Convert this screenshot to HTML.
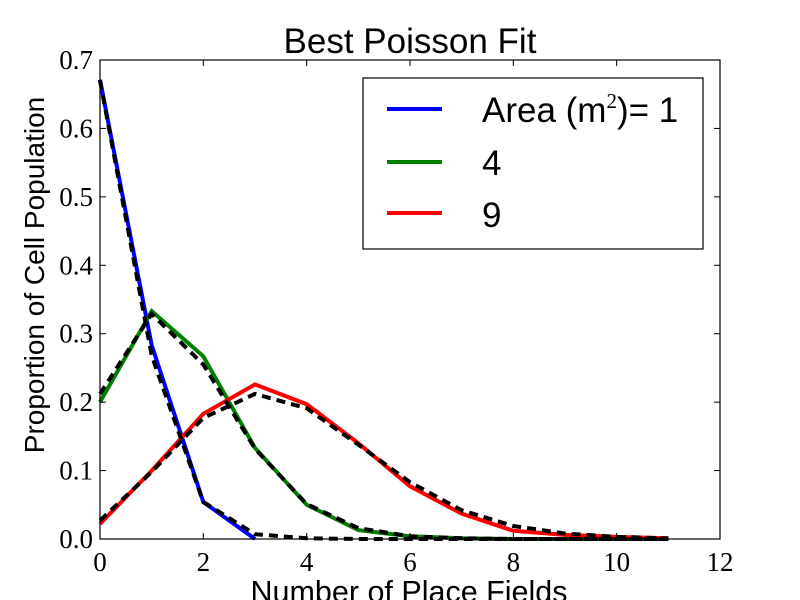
<!DOCTYPE html>
<html><head><meta charset="utf-8"><style>
html,body{margin:0;padding:0;background:#fff;}
svg{display:block;}
.serif{font-family:"Liberation Serif",serif;}
.sans{font-family:"Liberation Sans",sans-serif;}
</style></head><body>
<svg id="chart" width="800" height="600" viewBox="0 0 800 600" xmlns="http://www.w3.org/2000/svg">
<rect x="0" y="0" width="800" height="600" fill="#fff"/>
<g id="plot"></g>
<rect x="100" y="60" width="620" height="479" fill="none" stroke="#000" stroke-width="1.2"/>
<text x="410" y="53" text-anchor="middle" class="sans" font-size="35">Best Poisson Fit</text>
<text x="409" y="602" text-anchor="middle" class="sans" font-size="30.5">Number of Place Fields</text>
<text transform="translate(44,275) rotate(-90)" text-anchor="middle" class="sans" font-size="28">Proportion of Cell Population</text>
<g>
<rect x="363" y="78" width="340" height="171" fill="#fff" stroke="#000" stroke-width="1.2"/>
<line x1="387" y1="109" x2="442" y2="109" stroke="#0000ff" stroke-width="4"/>
<line x1="387" y1="162" x2="442" y2="162" stroke="#008000" stroke-width="4"/>
<line x1="387" y1="213" x2="442" y2="213" stroke="#ff0000" stroke-width="4"/>
<text x="482" y="122" class="sans" font-size="35">Area (m<tspan class="serif" font-size="21" dy="-14">2</tspan><tspan dy="14">)= 1</tspan></text>
<text x="482" y="175" class="sans" font-size="35">4</text>
<text x="482" y="227" class="sans" font-size="35">9</text>
</g>
</svg>
<script>
const xTicks = [0,2,4,6,8,10,12];
const yTicks = [0.0,0.1,0.2,0.3,0.4,0.5,0.6,0.7];
const xsBlue = [0,1,2,3];
const valsBlue = [0.671,0.283,0.054,0.0];
const xsGreen = [0,1,2,3,4,5,6,7,8,9,10,11];
const valsGreen = [0.200,0.333,0.267,0.133,0.050,0.013,0.004,0.001,0.0,0.0,0.0,0.0];
const xsRed = [0,1,2,3,4,5,6,7,8,9,10,11];
const valsRed = [0.022,0.100,0.183,0.226,0.197,0.140,0.077,0.037,0.012,0.006,0.003,0.001];
const xsFit = [0,1,2,3,4,5,6,7,8,9,10,11];
const fitBlue = [0.670,0.268,0.054,0.007,0.001,0,0,0,0,0,0,0];
const fitGreen = [0.212,0.329,0.255,0.132,0.051,0.016,0.004,0.001,0,0,0,0];
const fitRed = [0.027,0.098,0.177,0.212,0.191,0.138,0.083,0.042,0.019,0.008,0.003,0.001];

const NS='http://www.w3.org/2000/svg';
const X0=100,X1=720,Y0=539,Y1=60;
function sx(v){return X0+(v-0)/(12-0)*(X1-X0);}
function sy(v){return Y0-(v-0)/(0.7-0)*(Y0-Y1);}
const plot=document.getElementById('plot');
const svg=document.getElementById('chart');
function mk(tag,attrs,parent){const e=document.createElementNS(NS,tag);for(const k in attrs)e.setAttribute(k,attrs[k]);(parent||plot).appendChild(e);return e;}
function path(xs,ys){return xs.map((x,i)=>(i?'L':'M')+sx(x).toFixed(1)+','+sy(ys[i]).toFixed(1)).join(' ');}

xTicks.forEach(t=>{
  const a=mk('line',{x1:sx(t),x2:sx(t),y1:Y0,y2:Y0-6,stroke:'#000','stroke-width':1},svg);
  
  
  const b=mk('line',{x1:sx(t),x2:sx(t),y1:Y1,y2:Y1+6,stroke:'#000','stroke-width':1},svg);
  
  
  const l=mk('text',{x:sx(t),y:571,'text-anchor':'middle','class':'serif','font-size':27},svg);
  l.textContent=String(t);
  
  
});
yTicks.forEach(t=>{
  const a=mk('line',{x1:X0,x2:X0+6,y1:sy(t),y2:sy(t),stroke:'#000','stroke-width':1},svg);
  
  
  const b=mk('line',{x1:X1,x2:X1-6,y1:sy(t),y2:sy(t),stroke:'#000','stroke-width':1},svg);
  
  
  const l=mk('text',{x:93,y:sy(t)+9,'text-anchor':'end','class':'serif','font-size':27},svg);
  l.textContent=t.toFixed(1);
  
  
});

const series=[[xsBlue,valsBlue,'#0000ff','series-area-1'],[xsGreen,valsGreen,'#008000','series-area-4'],[xsRed,valsRed,'#ff0000','series-area-9']];
series.forEach(s=>{
  const p=mk('path',{d:path(s[0],s[1]),fill:'none',stroke:s[2],'stroke-width':4,'stroke-linejoin':'miter'});
  
  
});
[[fitBlue,'fit-area-1'],[fitGreen,'fit-area-4'],[fitRed,'fit-area-9']].forEach(f=>{
  const p=mk('path',{d:path(xsFit,f[0]),fill:'none',stroke:'#000','stroke-width':4,'stroke-dasharray':'9,6'});
  
  
});
</script>
</body></html>
